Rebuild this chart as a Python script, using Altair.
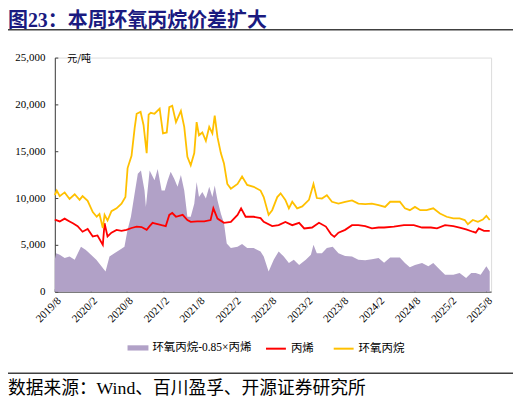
import altair as alt
import pandas as pd

# ---- data ----
po_dates = ["2019/08/01","2019/08/11","2019/08/26","2019/09/20","2019/10/15","2019/11/10","2019/12/05","2019/12/20",
            "2020/01/15","2020/02/10","2020/03/01","2020/03/15","2020/04/01","2020/04/10","2020/04/25","2020/05/15",
            "2020/06/10","2020/07/05","2020/07/25","2020/08/05","2020/08/25","2020/09/10","2020/09/20","2020/10/10",
            "2020/10/25","2020/11/10","2020/11/20","2020/12/01","2020/12/20","2021/01/15","2021/02/01","2021/02/20",
            "2021/03/05","2021/03/20","2021/04/08","2021/05/03","2021/05/20","2021/06/05","2021/06/22","2021/07/10",
            "2021/07/22","2021/08/03","2021/08/20","2021/09/07","2021/09/24","2021/10/10","2021/10/22","2021/11/05",
            "2021/11/22","2021/12/08","2021/12/25","2022/01/12","2022/02/15","2022/03/10","2022/04/05","2022/05/08",
            "2022/06/12","2022/06/28","2022/07/23","2022/08/10","2022/09/05","2022/09/22","2022/10/16","2022/11/03",
            "2022/11/20","2022/12/15","2023/01/10","2023/02/13","2023/03/08","2023/03/25","2023/04/20","2023/05/15",
            "2023/06/10","2023/07/13","2023/08/16","2023/09/20","2023/10/22","2023/11/26","2023/12/30","2024/02/02",
            "2024/03/06","2024/04/01","2024/05/20","2024/06/15","2024/07/10","2024/08/05","2024/09/01","2024/10/03",
            "2024/11/06","2024/12/10","2025/01/13","2025/02/16","2025/03/20","2025/04/15","2025/05/01","2025/05/26",
            "2025/06/21","2025/07/16","2025/08/03","2025/08/20"]
po_values = [10300,10800,10200,10600,9900,10400,9800,10200,9700,8500,8000,8300,6800,8200,7600,8600,
             8900,9400,10100,13200,14500,17500,19000,19200,17800,14800,18900,19100,19000,19540,16900,17000,
             19700,19850,18100,19300,17600,14400,13500,14800,18100,16700,17000,16100,17600,16900,18800,16500,
             14800,13700,11500,11000,11500,12300,11400,11200,10800,10100,8200,8700,10100,10500,9800,8900,
             9600,8900,9100,9800,11500,10000,9950,10300,9600,9400,9600,9750,9400,9350,9400,9250,
             9050,9600,9600,8900,8700,9050,8700,8700,8900,8350,8000,7830,7830,7650,7200,7650,
             7450,7700,8100,7650]

pp_dates = ["2019/08/01","2019/08/26","2019/09/20","2019/10/15","2019/11/01","2019/11/25","2019/12/20","2020/01/15",
            "2020/02/10","2020/03/05","2020/04/01","2020/04/10","2020/04/25","2020/05/15","2020/06/10","2020/07/05",
            "2020/07/30","2020/08/25","2020/09/20","2020/10/15","2020/11/10","2020/11/25","2020/12/10","2020/12/20",
            "2021/01/25","2021/02/15","2021/03/05","2021/03/20","2021/04/08","2021/05/12","2021/06/05","2021/06/22",
            "2021/07/25","2021/08/30","2021/10/01","2021/10/15","2021/11/05","2021/12/08","2022/01/12","2022/02/15",
            "2022/03/05","2022/03/28","2022/05/08","2022/06/12","2022/06/28","2022/08/10","2022/09/12","2022/10/16",
            "2022/11/20","2022/12/25","2023/01/20","2023/03/01","2023/04/05","2023/05/10","2023/06/05","2023/06/22",
            "2023/07/13","2023/08/16","2023/09/20","2023/10/22","2023/11/26","2023/12/30","2024/02/02","2024/03/01",
            "2024/04/20","2024/06/10","2024/07/30","2024/09/10","2024/10/25","2024/11/25","2025/01/05","2025/02/16",
            "2025/03/20","2025/04/22","2025/05/26","2025/06/10","2025/06/25","2025/07/22","2025/08/20"]
pp_values = [7700,7500,7800,7500,7300,7000,6400,6700,5900,6000,5000,7300,5900,6300,6600,6500,
             6600,6800,6950,6900,6600,7000,7350,7300,7100,7000,8200,8400,8000,8200,7650,7450,
             7500,7500,7650,8900,7800,7350,7450,8200,8900,8000,8000,7850,7450,7000,7100,7450,
             7100,7350,6750,6850,7350,6950,6150,5850,6300,6600,7100,7100,7000,6750,6850,6850,
             6950,7100,7100,6850,6850,6750,7100,7000,6850,6650,6400,6300,6750,6500,6500]

spread_dates = ["2019/08/01","2019/08/08","2019/08/26","2019/09/20","2019/10/15","2019/11/10","2019/12/12","2020/01/06",
                "2020/02/01","2020/02/28","2020/03/25","2020/04/15","2020/05/05","2020/05/30","2020/06/25","2020/07/20",
                "2020/08/05","2020/08/22","2020/09/10","2020/09/26","2020/10/12","2020/10/30","2020/11/06","2020/11/25",
                "2020/12/20","2021/01/05","2021/01/25","2021/02/10","2021/02/25","2021/03/12","2021/03/30","2021/04/16",
                "2021/05/03","2021/05/20","2021/06/05","2021/06/22","2021/07/10","2021/07/22","2021/08/03","2021/08/20",
                "2021/09/07","2021/09/24","2021/10/10","2021/10/22","2021/11/05","2021/11/22","2021/12/08","2021/12/22",
                "2022/01/12","2022/02/15","2022/03/10","2022/04/05","2022/05/08","2022/06/12","2022/06/28","2022/07/23",
                "2022/08/18","2022/09/12","2022/10/08","2022/11/03","2022/11/28","2022/12/25","2023/01/28","2023/02/23",
                "2023/03/08","2023/03/25","2023/04/20","2023/05/15","2023/06/14","2023/07/13","2023/08/16","2023/09/20",
                "2023/10/22","2023/11/26","2023/12/30","2024/02/02","2024/03/01","2024/04/01","2024/05/20","2024/06/15",
                "2024/07/10","2024/08/05","2024/09/10","2024/10/12","2024/11/06","2024/12/10","2025/01/05","2025/02/16",
                "2025/03/20","2025/04/22","2025/05/18","2025/06/10","2025/07/05","2025/08/03","2025/08/20"]
spread_values = [3400,4100,3950,3600,3750,3400,4800,4450,3950,3400,2700,2150,3750,4100,4450,4800,
                 6600,8000,10500,12600,12950,10800,9050,12950,11900,13100,10800,10800,11900,12800,12050,11200,
                 12450,10800,8000,8000,9400,11700,10100,10650,9950,11200,10100,11350,9750,8350,7300,5150,
                 4650,4800,5100,4650,4650,4300,3750,2150,3400,4300,3750,3050,3400,2850,3400,3950,
                 5000,4100,4100,4650,4800,4100,3800,3750,3400,3350,3450,3600,3100,3650,3650,3050,
                 2600,2850,3050,2700,3050,2350,1800,1800,2000,1450,2000,2000,1800,2700,2150]

tick_labels = ["2019/8","2020/2","2020/8","2021/2","2021/8","2022/2","2022/8",
               "2023/2","2023/8","2024/2","2024/8","2025/2","2025/8"]
y_ticks = [0, 5000, 10000, 15000, 20000, 25000]

AREA_NAME = "环氧丙烷-0.85×丙烯"
PP_NAME = "丙烯"
PO_NAME = "环氧丙烷"
TITLE = "图23：本周环氧丙烷价差扩大"
SOURCE = "数据来源：Wind、百川盈孚、开源证券研究所"
UNIT = "元/吨"

# ---- frames ----
area_df = pd.DataFrame({"date": spread_dates, "value": spread_values, "series": AREA_NAME})
line_df = pd.concat([
    pd.DataFrame({"date": pp_dates, "value": pp_values, "series": PP_NAME}),
    pd.DataFrame({"date": po_dates, "value": po_values, "series": PO_NAME}),
], ignore_index=True)

def to_dt(lbl):
    y, m = lbl.split("/")
    return alt.DateTime(year=int(y), month=int(m), date=1)

W, H = 438, 235
SERIF = "Liberation Serif"
CJK = "Noto Sans CJK SC"
MIX = "Liberation Serif, Noto Sans CJK SC"

x_enc = alt.X("date:T",
              scale=alt.Scale(domain=[alt.DateTime(year=2019, month=8, date=1),
                                      alt.DateTime(year=2025, month=8, date=27)]),
              axis=alt.Axis(values=[to_dt(t) for t in tick_labels], format="%Y/%-m",
                            labelAngle=315, labelAlign="right", labelBaseline="top",
                            labelFont=SERIF, labelFontSize=11, labelColor="#000000",
                            labelPadding=6, tickSize={"expr": "-3"}, tickColor="#404040",
                            domainColor="#404040", grid=False, title=None, labelOverlap=False,
                            labelFlush=False),
              title=None)
y_enc = alt.Y("value:Q",
              scale=alt.Scale(domain=[0, 25000], nice=False),
              axis=alt.Axis(values=y_ticks, format=",d", labelFont=SERIF, labelFontSize=11,
                            labelColor="#000000", labelPadding=13, tickSize={"expr": "-3"},
                            tickColor="#404040", domainColor="#404040", grid=False,
                            title=UNIT, titleAngle=0, titleX=12, titleY=1, titleAlign="left",
                            titleBaseline="middle", titleFont=CJK, titleFontSize=10,
                            titleFontWeight="normal", titleColor="#000000"),
              title=UNIT)

area = alt.Chart(area_df).mark_area(opacity=1, interpolate="linear").encode(
    x=x_enc, y=y_enc,
    fill=alt.Fill("series:N",
                  scale=alt.Scale(domain=[AREA_NAME], range=["#b1a1c7"]),
                  legend=alt.Legend(title=None, orient="none", legendX=73, legendY=281,
                                    symbolType="M-1,-0.25L1,-0.25L1,0.25L-1,0.25Z",
                                    symbolSize=441, symbolStrokeWidth=0, symbolOpacity=1,
                                    labelFont=MIX, labelFontSize=11.5, labelColor="#000000",
                                    labelOffset=4, padding=0)),
)

lines = alt.Chart(line_df).mark_line(strokeWidth=1.8, interpolate="linear").encode(
    x=x_enc, y=y_enc,
    stroke=alt.Stroke("series:N",
                      scale=alt.Scale(domain=[PP_NAME, PO_NAME], range=["#ff0000", "#ffc000"]),
                      legend=alt.Legend(title=None, orient="none", legendX=211, legendY=281,
                                        direction="horizontal", columnPadding=16,
                                        symbolType="stroke", symbolSize=400, symbolStrokeWidth=2,
                                        labelFont=MIX, labelFontSize=11.5, labelColor="#000000",
                                        labelOffset=4, padding=0)),
    detail="series:N",
)

title_txt = alt.Chart().mark_text(text=TITLE, font=MIX, fontSize=20, fontWeight="bold",
                                  color="#1a1a80", align="left", baseline="alphabetic").encode(
    x=alt.value(-47), y=alt.value(-31))
top_rule = alt.Chart().mark_rule(color="#404040", strokeWidth=1.5).encode(
    x=alt.value(-50), x2=alt.value(460), y=alt.value(-28))
bottom_rule = alt.Chart().mark_rule(color="#404040", strokeWidth=1.5).encode(
    x=alt.value(-50), x2=alt.value(460), y=alt.value(317))
source_txt = alt.Chart().mark_text(text=SOURCE, font=MIX, fontSize=17.8, color="#000000",
                                   align="left", baseline="alphabetic").encode(
    x=alt.value(-47), y=alt.value(338))

chart = alt.layer(area, lines, title_txt, top_rule, bottom_rule, source_txt).properties(
    width=W, height=H,
    autosize=alt.AutoSizeParams(type="none"),
    padding={"left": 47, "top": 49, "right": 22, "bottom": 107},
).configure_view(stroke=None).configure(background="#ffffff")

chart.save("out.html", embed_options={"renderer": "svg", "actions": False})
